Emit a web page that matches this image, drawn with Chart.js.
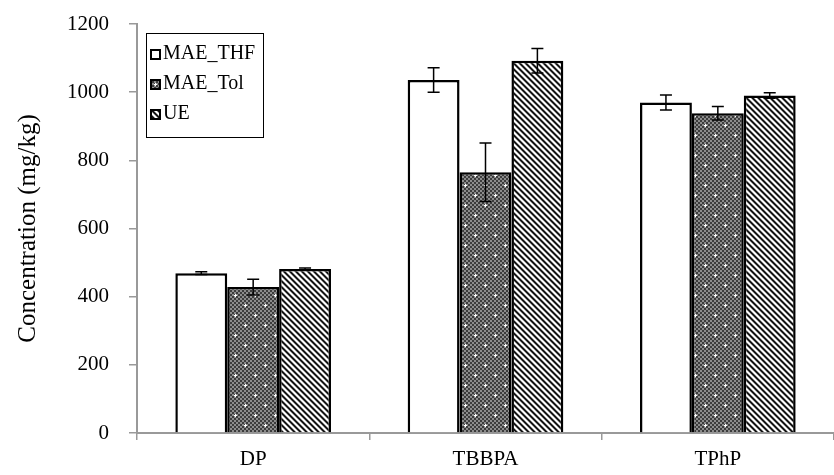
<!DOCTYPE html>
<html>
<head>
<meta charset="utf-8">
<script src="https://cdn.jsdelivr.net/npm/chart.js@4/dist/chart.umd.min.js"></script>
<style>
  body { margin: 0; background: #fff; }
  #wrap { position: relative; width: 834px; height: 475px; }
  #legend {
    position: absolute; left: 146px; top: 33px; width: 116px; height: 103px;
    border: 1.5px solid #000; background: #fff;
    font-family: "Liberation Serif", "Times New Roman", serif; font-size: 20px;
  }
  .row { position: absolute; left: 3px; height: 24px; line-height: 24px; white-space: nowrap; }
  .row canvas { vertical-align: -1px; margin-right: 2px; }
</style>
</head>
<body>
<div id="wrap">
  <canvas id="chart" width="834" height="475"></canvas>
  <div id="legend"></div>
</div>
<script>
// data
const categories = ["DP", "TBBPA", "TPhP"];
const seriesNames = ["MAE_THF", "MAE_Tol", "UE"];
const thfValues = [469, 1036, 970];
const tolValues = [428, 765, 938];
const ueValues = [481, 1092, 990];
const thfErr = [4, 36, 22];
const tolErr = [23, 86, 20];
const ueErr = [3, 36, 8];
const yTicks = [0, 200, 400, 600, 800, 1000, 1200];

const serif = "'Liberation Serif', 'Times New Roman', serif";

// dotted grey fill
function makeDots() {
  const c = document.createElement("canvas");
  c.width = 20; c.height = 20;
  const g = c.getContext("2d");
  const img = g.createImageData(20, 20);
  for (let y = 0; y < 20; y++) {
    for (let x = 0; x < 20; x++) {
      const k = (y * 20 + x) * 4;
      const v = ((x >> 1) + (y >> 1)) % 2 === 0 ? 60 : 140;
      img.data[k] = img.data[k + 1] = img.data[k + 2] = v;
      img.data[k + 3] = 255;
    }
  }
  g.putImageData(img, 0, 0);
  g.fillStyle = "#fff";
  [[5, 5], [15, 15]].forEach(([x, y]) => {
    g.fillRect(x - 1, y, 3, 1);
    g.fillRect(x, y - 1, 1, 3);
  });
  return c;
}

// diagonal hatch fill
function makeHatch() {
  const c = document.createElement("canvas");
  c.width = 6; c.height = 6;
  const g = c.getContext("2d");
  const img = g.createImageData(6, 6);
  for (let y = 0; y < 6; y++) {
    for (let x = 0; x < 6; x++) {
      const k = (y * 6 + x) * 4;
      const d = ((x - y) % 6 + 6) % 6;
      const v = d < 2 ? 20 : (d === 2 || d === 5 ? 150 : 255);
      img.data[k] = img.data[k + 1] = img.data[k + 2] = v;
      img.data[k + 3] = 255;
    }
  }
  g.putImageData(img, 0, 0);
  return c;
}

const ctx = document.getElementById("chart").getContext("2d");
const dotFill = ctx.createPattern(makeDots(), "repeat");
const hatchFill = ctx.createPattern(makeHatch(), "repeat");
const fills = ["#ffffff", dotFill, hatchFill];
const errs = [thfErr, tolErr, ueErr];

const errorBars = {
  id: "errorBars",
  afterDatasetsDraw(chart) {
    const c = chart.ctx;
    const y = chart.scales.y;
    c.save();
    c.strokeStyle = "#000";
    c.lineWidth = 1.5;
    chart.data.datasets.forEach((ds, i) => {
      chart.getDatasetMeta(i).data.forEach((bar, j) => {
        const v = ds.data[j], e = errs[i][j];
        const top = y.getPixelForValue(v + e);
        const bot = y.getPixelForValue(v - e);
        c.beginPath();
        c.moveTo(bar.x, top); c.lineTo(bar.x, bot);
        c.moveTo(bar.x - 6, top); c.lineTo(bar.x + 6, top);
        c.moveTo(bar.x - 6, bot); c.lineTo(bar.x + 6, bot);
        c.stroke();
      });
    });
    c.restore();
  }
};

const myChart = new Chart(ctx, {
  type: "bar",
  data: {
    labels: categories,
    datasets: [thfValues, tolValues, ueValues].map((vals, i) => ({
      label: seriesNames[i],
      data: vals,
      backgroundColor: fills[i],
      borderColor: "#000",
      borderWidth: 2.5,
      barPercentage: 1,
      categoryPercentage: 0.67,
    })),
  },
  options: {
    responsive: false,
    animation: false,
    layout: { padding: { top: 24, right: 0, left: 0, bottom: 0 } },
    plugins: { legend: { display: false }, tooltip: { enabled: false } },
    scales: {
      x: {
        grid: { display: true, drawOnChartArea: false, color: "#999", tickLength: 7, lineWidth: 1.5 },
        border: { color: "#999", width: 2 },
        ticks: { color: "#000", font: { family: serif, size: 21 }, padding: 7 },
        afterFit: (s) => { s.height = 42; },
      },
      y: {
        min: 0,
        max: 1200,
        afterBuildTicks: (s) => { s.ticks = yTicks.map((v) => ({ value: v })); },
        grid: { display: true, drawOnChartArea: false, color: "#999", tickLength: 8, lineWidth: 1.5 },
        border: { color: "#999", width: 2 },
        ticks: { color: "#000", font: { family: serif, size: 21 }, padding: 20, callback: (v) => String(v) },
        title: { display: true, text: "Concentration (mg/kg)", color: "#000", font: { family: serif, size: 25 }, padding: { top: 13, bottom: 0 } },
        afterFit: (s) => { s.width = 137; s.paddingTop = 0; s.paddingBottom = 0; },
      },
    },
  },
  plugins: [errorBars],
});

// legend inside the plot, like the original
const legendEl = document.getElementById("legend");
seriesNames.forEach((name, i) => {
  const row = document.createElement("div");
  row.className = "row";
  row.style.top = (6 + i * 30) + "px";
  const sw = document.createElement("canvas");
  sw.width = 11; sw.height = 11;
  const g = sw.getContext("2d");
  g.fillStyle = g.createPattern(i === 1 ? makeDots() : makeHatch(), "repeat");
  if (i === 0) g.fillStyle = "#fff";
  g.fillRect(0, 0, 11, 11);
  g.strokeStyle = "#000"; g.lineWidth = 2;
  g.strokeRect(1, 1, 9, 9);
  row.appendChild(sw);
  row.appendChild(document.createTextNode(name));
  legendEl.appendChild(row);
});
</script>
</body>
</html>
